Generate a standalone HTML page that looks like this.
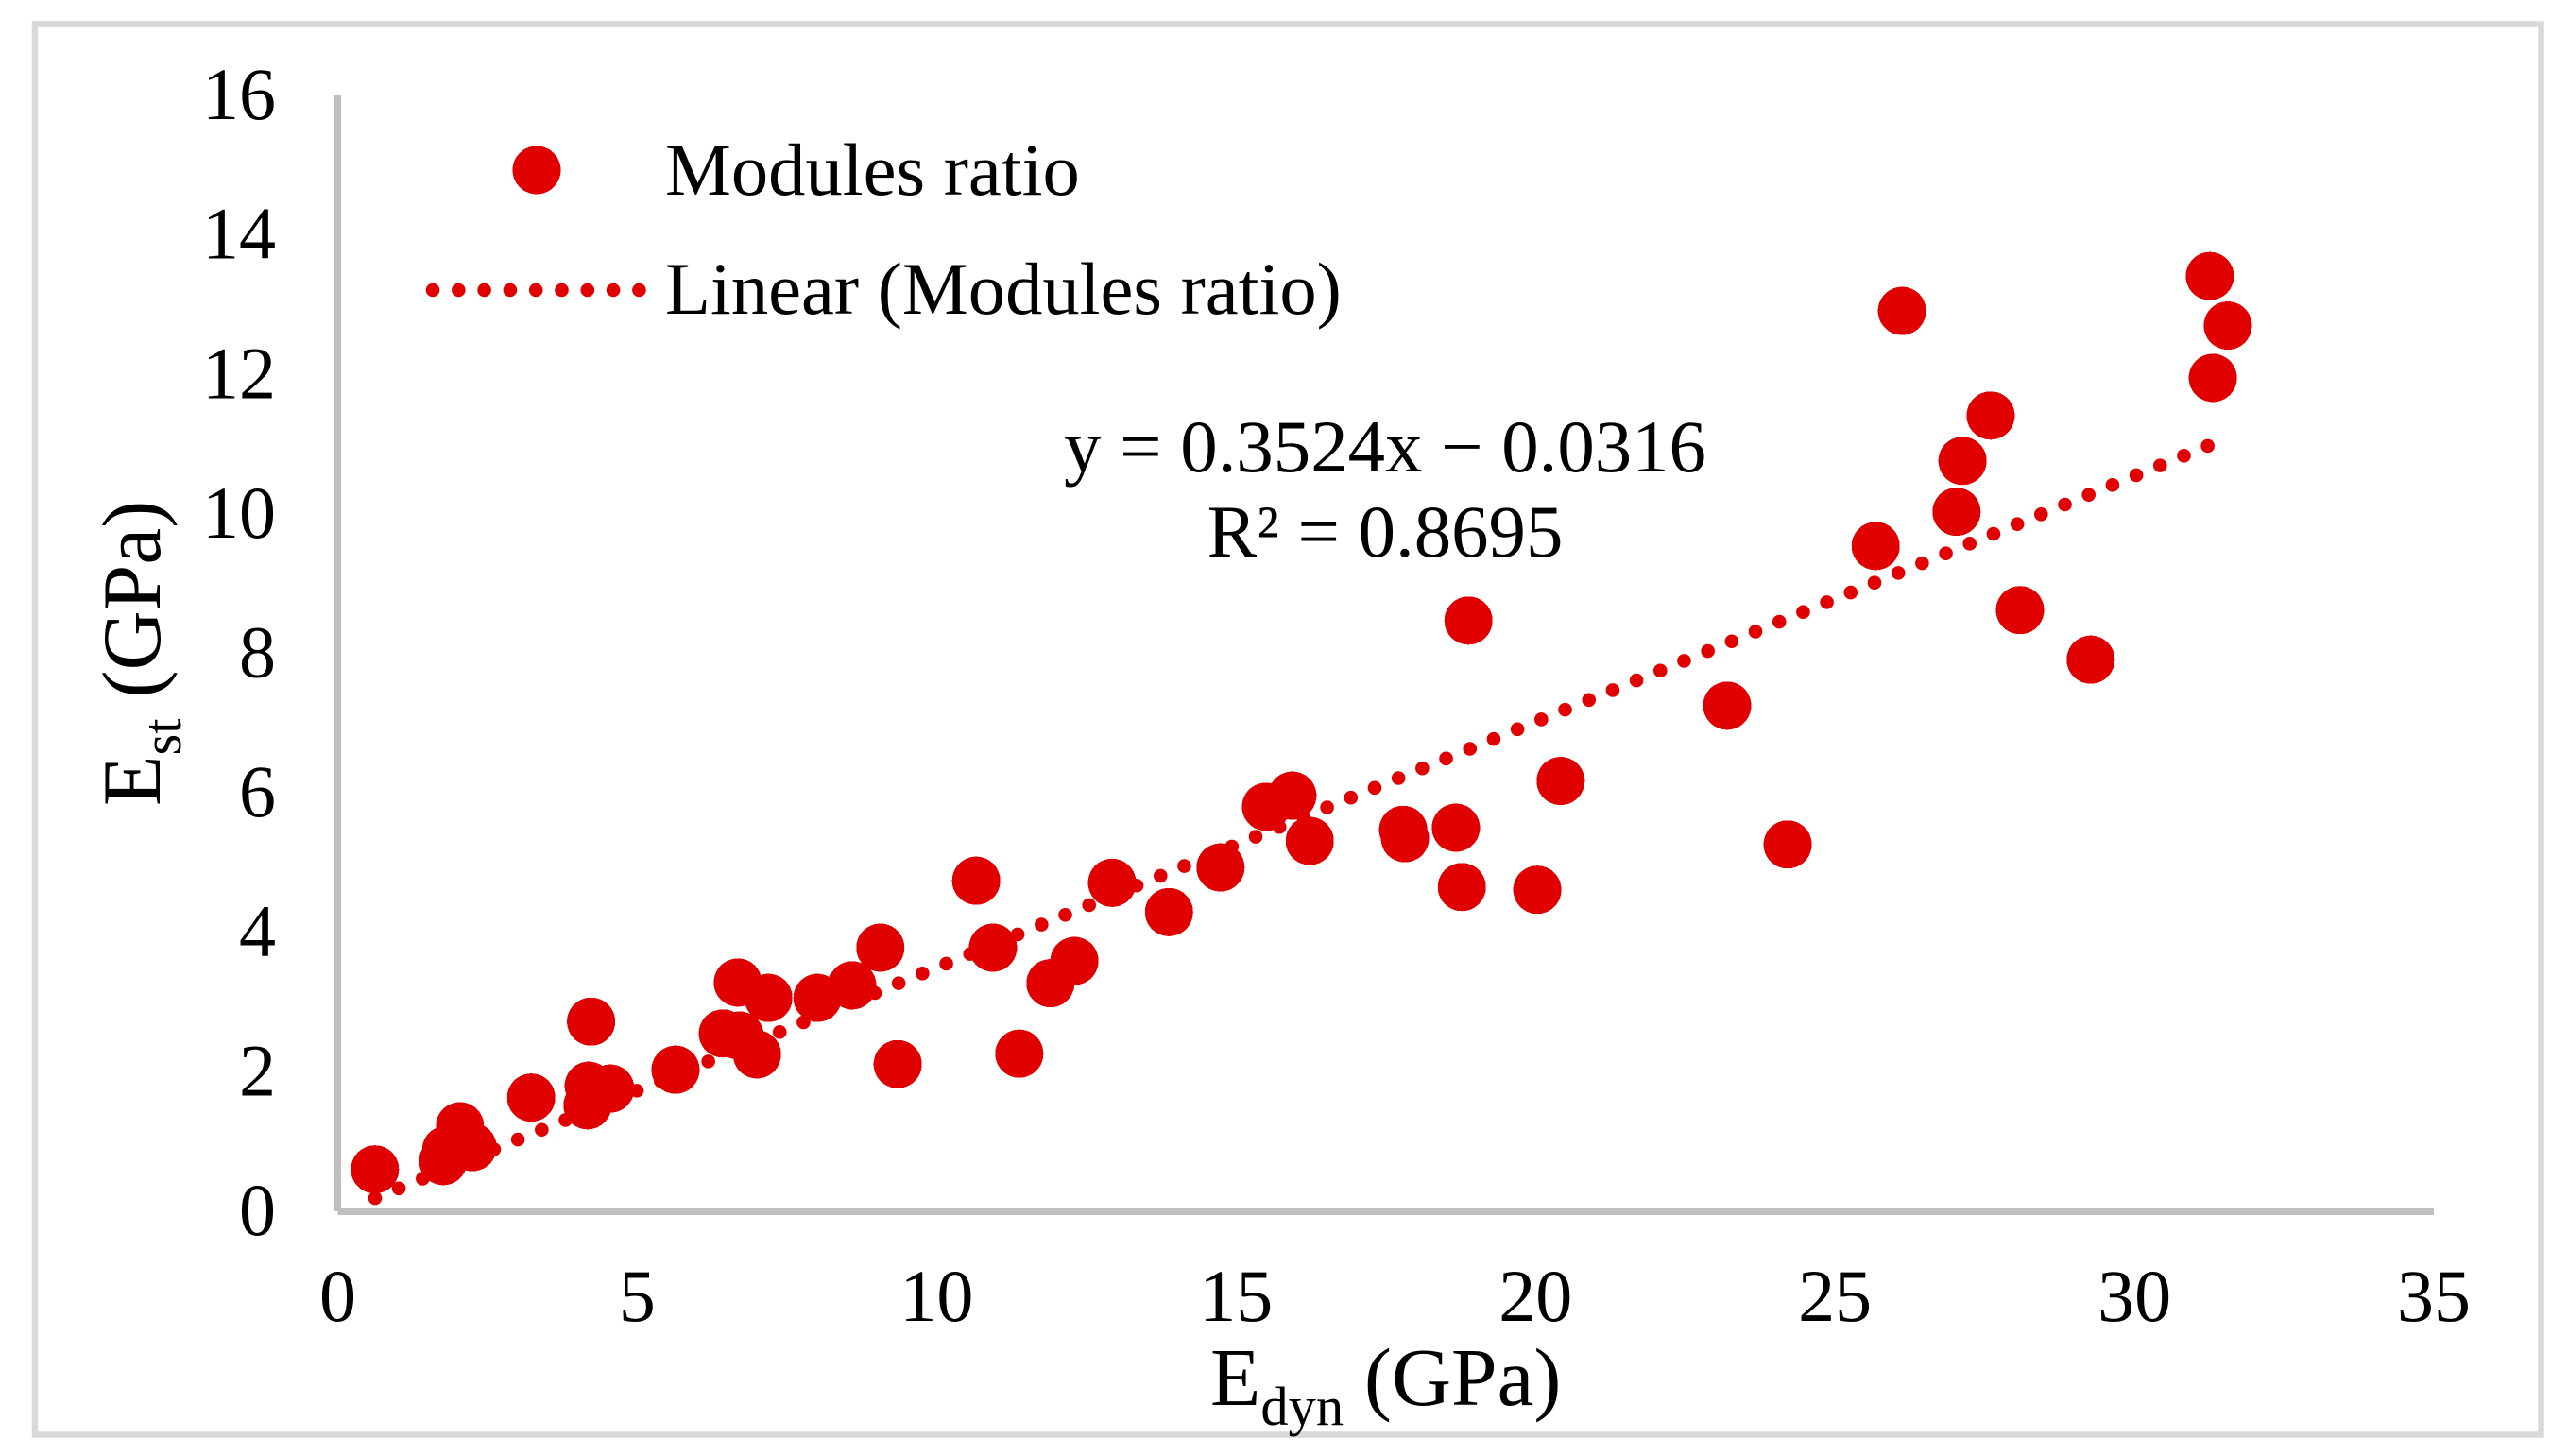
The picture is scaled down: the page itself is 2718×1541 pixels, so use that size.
<!DOCTYPE html>
<html lang="en">
<head>
<meta charset="utf-8">
<title>Modules ratio scatter chart</title>
<style>
  html, body { margin: 0; padding: 0; background: #ffffff; }
  svg { display: block; }
  text { font-family: "Liberation Serif", serif; fill: #000000; }
</style>
</head>
<body>
<svg id="chart" xmlns="http://www.w3.org/2000/svg" width="2718" height="1541" viewBox="0 0 2718 1541">
  <rect x="0" y="0" width="2718" height="1541" fill="#ffffff"/>
  <rect x="37" y="25.5" width="2652.5" height="1493" fill="none" stroke="#d9d9d9" stroke-width="6.5"/>
  <g id="plot"></g>
  <g>
    <circle cx="568" cy="180" r="25.5" fill="#e00000" shape-rendering="crispEdges"/>
    <text x="704" y="206" font-size="78.6">Modules ratio</text>
    <line x1="458" y1="307" x2="677" y2="307" stroke="#e00000" stroke-width="14.6" stroke-linecap="round" stroke-dasharray="0 27.3"/>
    <text x="704" y="332" font-size="78.6">Linear (Modules ratio)</text>
  </g>
  <text x="1466" y="499" font-size="78.8" text-anchor="middle">y = 0.3524x − 0.0316</text>
  <text x="1466" y="589" font-size="78.8" text-anchor="middle">R² = 0.8695</text>
  <text x="1281" y="1487" font-size="87.3">E<tspan font-size="58.5" dy="21">dyn</tspan><tspan dy="-21"> (GPa)</tspan></text>
  <text transform="translate(169,853) rotate(-90)" font-size="87.5">E<tspan font-size="58.5" dy="22">st</tspan><tspan dy="-22"> (GPa)</tspan></text>
</svg>
<script>
var xTicks = [0, 5, 10, 15, 20, 25, 30, 35];
var yTicks = [0, 2, 4, 6, 8, 10, 12, 14, 16];
var edynValues = [0.62, 1.76, 1.81, 2.04, 2.25, 3.23, 4.23, 4.19, 4.17, 4.55, 5.64, 6.43, 6.71, 7.00, 6.68, 7.19, 8.01, 8.59, 9.06, 9.35, 10.66, 10.94, 11.38, 11.90, 12.30, 12.93, 13.88, 14.74, 15.50, 15.94, 16.23, 17.79, 17.82, 18.67, 18.77, 18.88, 20.03, 20.42, 23.20, 24.21, 25.68, 26.12, 27.03, 27.13, 27.60, 28.09, 29.27, 31.26, 31.56, 31.31];
var estValues = [0.60, 0.72, 0.88, 1.22, 0.92, 1.63, 2.72, 1.80, 1.52, 1.76, 2.03, 2.55, 2.52, 2.25, 3.28, 3.06, 3.06, 3.24, 3.78, 2.11, 4.74, 3.78, 2.26, 3.27, 3.59, 4.71, 4.29, 4.93, 5.80, 5.96, 5.31, 5.47, 5.35, 5.50, 4.65, 8.47, 4.61, 6.17, 7.25, 5.26, 9.54, 12.91, 10.03, 10.76, 11.41, 8.62, 7.91, 13.41, 12.70, 11.95];
var trendX = [0.623, 31.24];
var trendY = [0.188, 10.98];

var NS = 'http://www.w3.org/2000/svg';
var plot = document.getElementById('plot');
var X0 = 357.5, X1 = 2576, Y0 = 1282, Y1 = 101;
var xMax = xTicks[xTicks.length - 1];
var yMax = yTicks[yTicks.length - 1];
function xScale(v) { return X0 + (X1 - X0) * v / xMax; }
function yScale(v) { return Y0 + (Y1 - Y0) * v / yMax; }
function make(tag, attrs) {
  var node = document.createElementNS(NS, tag);
  for (var k in attrs) { node.setAttribute(k, attrs[k]); }
  plot.appendChild(node);
  return node;
}

var yAxis = make('rect', { x: 354, y: yScale(yMax), width: 7, height: yScale(0) - yScale(yMax), fill: '#bfbfbf' });



var xAxis = make('rect', { x: xScale(0), y: yScale(0) - 4, width: xScale(xMax) - xScale(0), height: 8, fill: '#bfbfbf' });



xTicks.forEach(function (t) {
  var label = make('text', { x: xScale(t), y: 1398, 'font-size': 78, 'text-anchor': 'middle' });
  label.textContent = String(t);
  
  
});

yTicks.forEach(function (t) {
  var label = make('text', { x: 292, y: yScale(t) + 25, 'font-size': 78, 'text-anchor': 'end' });
  label.textContent = String(t);
  
  
});

var trend = make('line', {
  x1: xScale(trendX[0]), y1: yScale(trendY[0]),
  x2: xScale(trendX[1]), y2: yScale(trendY[1]),
  stroke: '#e00000', 'stroke-width': 14.6, 'stroke-linecap': 'round', 'stroke-dasharray': '0 27.23'
});



edynValues.forEach(function (v, i) {
  var point = make('circle', { cx: xScale(v), cy: yScale(estValues[i]), r: 25.5, fill: '#e00000', 'shape-rendering': 'crispEdges' });
  
  
});
</script>
</body>
</html>
